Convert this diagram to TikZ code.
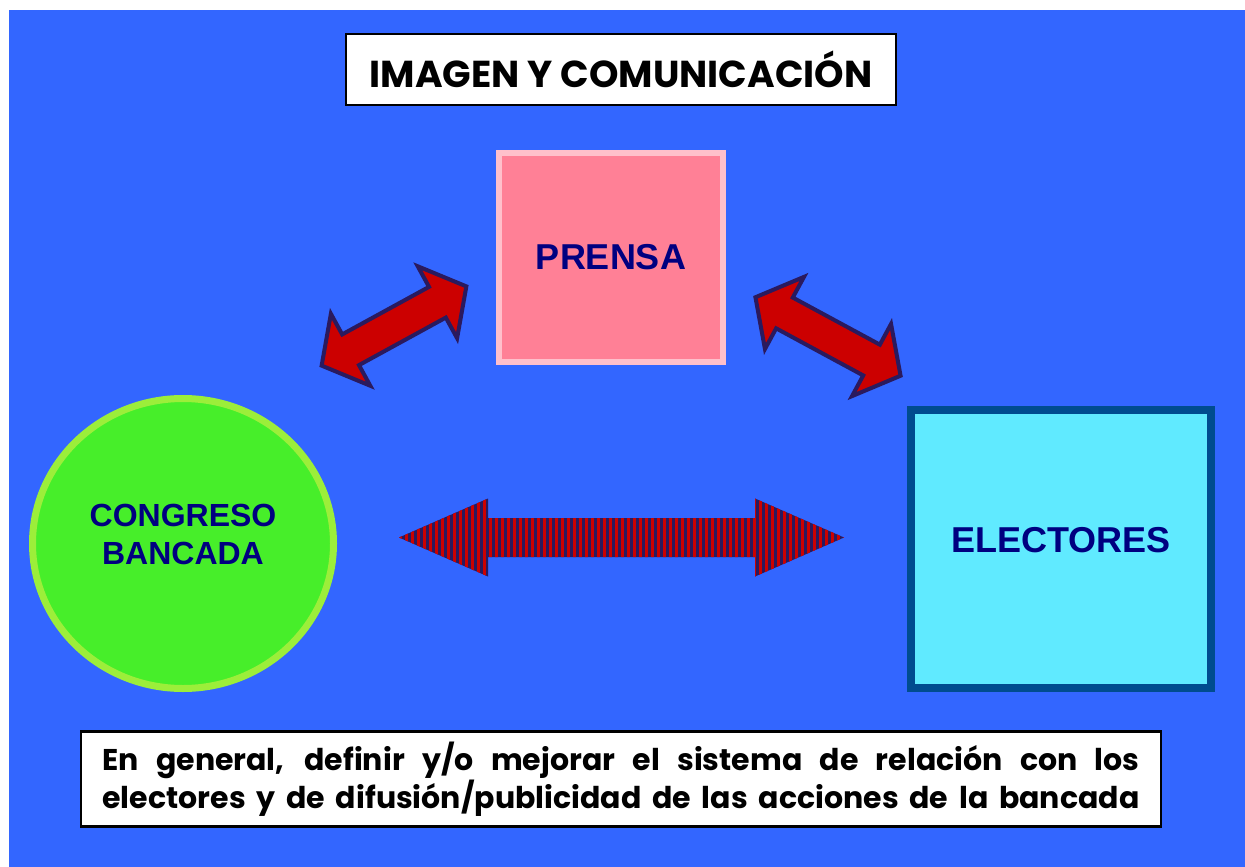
\documentclass[tikz,border=0pt]{standalone}
\usepackage{fontspec}
\usepackage{tikz}
\usetikzlibrary{shapes.geometric}
\newfontfamily\gothic{Poppins}
\newfontfamily\arialb{Liberation Sans}

\definecolor{fondo}{HTML}{3366FF}
\definecolor{rosa}{HTML}{FF8096}
\definecolor{rosaclaro}{HTML}{FFC0CB}
\definecolor{verde}{HTML}{47EE2A}
\definecolor{verdeclaro}{HTML}{9CEE3A}
\definecolor{celeste}{HTML}{60EAFF}
\definecolor{azulborde}{HTML}{004C8F}
\definecolor{marino}{HTML}{000080}
\definecolor{rojo}{HTML}{CC0000}
\definecolor{morado}{HTML}{2A1A5E}

% fat double arrow: [style]{center}{angle}{half length}{head length}{head half width}{shaft half width}
\newcommand{\fatarrow}[7][]{%
  \path[#1, shift={#2}, rotate=#3] (-#4,0) -- (-#4+#5,#6) -- (-#4+#5,#7) -- (#4-#5,#7)
    -- (#4-#5,#6) -- (#4,0) -- (#4-#5,-#6) -- (#4-#5,-#7) -- (-#4+#5,-#7) -- (-#4+#5,-#6) -- cycle;}

\tikzset{
  titlebox/.style={draw=black, line width=2.5pt, fill=white, inner sep=0pt,
    minimum width=550pt, minimum height=71pt, font=\gothic\bfseries\fontsize{37.5}{44}\selectfont},
  notebox/.style={draw=black, line width=2.5pt, fill=white, inner sep=0pt, align=center,
    minimum width=1080pt, minimum height=95pt, font=\gothic\bfseries\fontsize{30}{38}\selectfont},
  prensabox/.style={rectangle, draw=rosaclaro, line width=6pt, fill=rosa, inner sep=0pt,
    minimum width=224pt, minimum height=209pt},
  congresobox/.style={ellipse, draw=verdeclaro, line width=7pt, fill=verde, inner sep=0pt,
    minimum width=301pt, minimum height=290pt},
  electoresbox/.style={rectangle, draw=azulborde, line width=8pt, fill=celeste, inner sep=0pt,
    minimum width=300pt, minimum height=278pt},
  lbl/.style={text=marino, align=center, inner sep=0pt},
  redarrow/.style={fill=rojo, draw=morado, line width=4pt, line join=miter}
}

\begin{document}
\begin{tikzpicture}[x=1pt, y=-1pt]
\useasboundingbox (0,0) rectangle (1245,867);
\fill[fondo] (9,10) rectangle (1245,867);

\node[titlebox] (titulo) at (621,69.5) {IMAGEN Y COMUNICACIÓN};

\node[prensabox, font=\arialb\bfseries\fontsize{36}{40}\selectfont, text=marino] (prensa) at (611,257.5) {PRENSA};
\node[congresobox] (congreso) at (183,543.5) {};
\node[lbl, font=\arialb\bfseries\fontsize{32}{38}\selectfont] (congresotxt) at ([yshift=9pt]congreso.center) {CONGRESO\\BANCADA};
\node[electoresbox] (electores) at (1061,549) {};
\node[lbl, font=\arialb\bfseries\fontsize{36}{40}\selectfont] (electorestxt) at ([yshift=9pt]electores.center) {ELECTORES};

% arrows
\fatarrow[redarrow]{(394,326)}{28.7}{82.5}{33}{41}{17.5}
\fatarrow[redarrow]{(828,336.5)}{-28.4}{82.5}{33}{41}{17.5}

\begin{scope}
  \fatarrow[clip]{(621.5,537.5)}{0}{222.5}{89}{39}{19.5}
  \fill[morado] (398,495) rectangle (846,580);
  \foreach \sx in {399,405,...,845}
    \fill[rojo] (\sx,495) rectangle ++(3,85);
\end{scope}

\node[notebox] (nota) at (621,779)
  {\makebox[1037pt][s]{En general, definir y/o mejorar el sistema de relación con los}\\
   \makebox[1037pt][s]{electores y de difusión/publicidad de las acciones de la bancada}};

\end{tikzpicture}
\end{document}
